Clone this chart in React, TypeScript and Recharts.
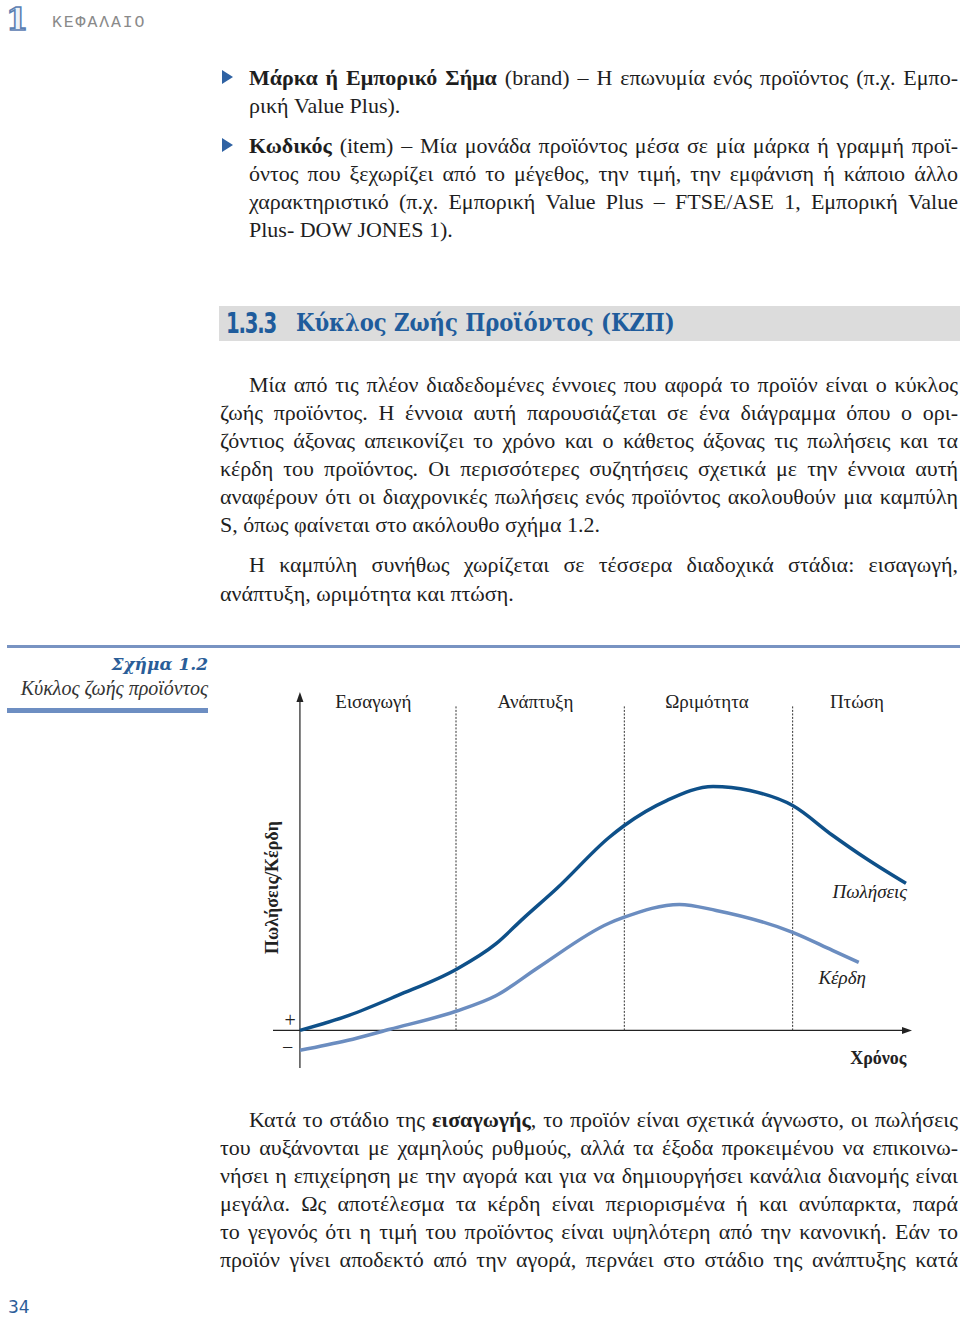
import React from "react";
import { LineChart, Line, XAxis, YAxis, ReferenceLine, ReferenceDot } from "recharts";

// sales / profit curves (time 0..100, value -10..90)
const salesT = [0, 8, 16, 25.5, 32, 36.5, 42, 50.5, 53, 60, 67.5, 73.5, 80.5, 87, 92.5, 99];
const salesV = [0, 4, 9.3, 16.2, 23, 29.8, 37.8, 51.3, 54.5, 61.2, 64.9, 63.8, 59.8, 51.9, 45.7, 39.1];
const profitT = [0, 7.7, 14.7, 25.5, 32, 39, 50.5, 53, 62, 68, 80.5, 87, 91.3];
const profitV = [-5.3, -2.7, 0.3, 5.1, 9.2, 16.8, 28.5, 30.1, 33.5, 31.9, 26.1, 21.3, 18.1];

const stages = ["Εισαγωγή", "Ανάπτυξη", "Ωριμότητα", "Πτώση"];
const stageCenters = [12, 38.5, 66.5, 91];
const stageBounds = [25.5, 53, 80.5];

const sales = salesT.map((t, i) => ({ t, v: salesV[i] }));
const profit = profitT.map((t, i) => ({ t, v: profitV[i] }));

const SALES = "#0e5089";
const PROFIT = "#6b8dc0";
const SERIF = '"Liberation Serif", "Times New Roman", serif';

const bullet1 = [
  [<b key="b">Μάρκα ή Εμπορικό Σήμα</b>, " (brand) – Η επωνυμία ενός προϊόντος (π.χ. Εμπο-"],
  ["ρική Value Plus)."],
];
const bullet2 = [
  [<b key="b">Κωδικός</b>, " (item) – Μία μονάδα προϊόντος μέσα σε μία μάρκα ή γραμμή προϊ-"],
  ["όντος που ξεχωρίζει από το μέγεθος, την τιμή, την εμφάνιση ή κάποιο άλλο"],
  ["χαρακτηριστικό (π.χ. Εμπορική Value Plus – FTSE/ASE 1, Εμπορική Value"],
  ["Plus- DOW JONES 1)."],
];
const para1 = [
  "Μία από τις πλέον διαδεδομένες έννοιες που αφορά το προϊόν είναι ο κύκλος",
  "ζωής προϊόντος. Η έννοια αυτή παρουσιάζεται σε ένα διάγραμμα όπου ο ορι-",
  "ζόντιος άξονας απεικονίζει το χρόνο και ο κάθετος άξονας τις πωλήσεις και τα",
  "κέρδη του προϊόντος. Οι περισσότερες συζητήσεις σχετικά με την έννοια αυτή",
  "αναφέρουν ότι οι διαχρονικές πωλήσεις ενός προϊόντος ακολουθούν μια καμπύλη",
  "S, όπως φαίνεται στο ακόλουθο σχήμα 1.2.",
];
const para2 = [
  "Η καμπύλη συνήθως χωρίζεται σε τέσσερα διαδοχικά στάδια: εισαγωγή,",
  "ανάπτυξη, ωριμότητα και πτώση.",
];
const para3 = [
  ["Κατά το στάδιο της ", <b key="b">εισαγωγής</b>, ", το προϊόν είναι σχετικά άγνωστο, οι πωλήσεις"],
  ["του αυξάνονται με χαμηλούς ρυθμούς, αλλά τα έξοδα προκειμένου να επικοινω-"],
  ["νήσει η επιχείρηση με την αγορά και για να δημιουργήσει κανάλια διανομής είναι"],
  ["μεγάλα. Ως αποτέλεσμα τα κέρδη είναι περιορισμένα ή και ανύπαρκτα, παρά"],
  ["το γεγονός ότι η τιμή του προϊόντος είναι υψηλότερη από την κανονική. Εάν το"],
  ["προϊόν γίνει αποδεκτό από την αγορά, περνάει στο στάδιο της ανάπτυξης κατά"],
];

function TextLine({ y, x = 220, justify = true, children }: any) {
  return (
    <div
      style={{
        position: "absolute",
        left: x,
        top: y - 14,
        width: 958 - x,
        height: 28,
        lineHeight: "28px",
        fontSize: 22,
        wordSpacing: justify ? -2 : 0,
        color: "#1e1e1e",
        textAlign: justify ? "justify" : "left",
        textAlignLast: justify ? "justify" : "left",
      }}
    >
      {children}
    </div>
  );
}

function Bullet({ y }: { y: number }) {
  return (
    <svg style={{ position: "absolute", left: 222, top: y - 8 }} width={12} height={16}>
      <polygon points="0,1 11,8 0,15" fill="#2f62a3" />
    </svg>
  );
}

// axis line with an arrow head at the far end
const arrowLine = (p: any) => {
  const { x1, y1, x2, y2 } = p;
  if (Math.abs(x1 - x2) < 0.5) {
    const top = Math.min(y1, y2);
    const bot = Math.max(y1, y2);
    return (
      <g>
        <line x1={x1} y1={top + 4} x2={x1} y2={bot} stroke="#222" strokeWidth={1.2} />
        <polygon points={`${x1},${top} ${x1 - 3.5},${top + 10} ${x1 + 3.5},${top + 10}`} fill="#222" />
      </g>
    );
  }
  const left = Math.min(x1, x2);
  const right = Math.max(x1, x2);
  return (
    <g>
      <line x1={left} y1={y1} x2={right - 4} y2={y1} stroke="#222" strokeWidth={1.2} />
      <polygon points={`${right},${y1} ${right - 10},${y1 - 3.5} ${right - 10},${y1 + 3.5}`} fill="#222" />
    </g>
  );
};

const tag =
  (text: string, style: any = {}, rotate = false) =>
  (props: any) => {
    const vb = props.viewBox || {};
    const cx = vb.x + (vb.width || 0) / 2;
    const cy = vb.y + (vb.height || 0) / 2;
    return (
      <text
        x={cx}
        y={cy}
        textAnchor="middle"
        dominantBaseline="central"
        fontFamily={SERIF}
        fontSize={19}
        fill="#222"
        transform={rotate ? `rotate(-90 ${cx} ${cy})` : undefined}
        {...style}
      >
        {text}
      </text>
    );
  };

function LifeCycleChart() {
  return (
    <div style={{ position: "absolute", left: 230, top: 670 }}>
      <LineChart width={700} height={420} margin={{ top: 22, right: 18, bottom: 22, left: 43 }}>
        <XAxis type="number" dataKey="t" domain={[-4.4, 100]} hide allowDataOverflow />
        <YAxis type="number" dataKey="v" domain={[-10, 90]} hide allowDataOverflow />
        <ReferenceLine x={0} shape={arrowLine} />
        <ReferenceLine y={0} shape={arrowLine} />
        {stageBounds.map((b) => (
          <ReferenceLine
            key={b}
            segment={[
              { x: b, y: 0 },
              { x: b, y: 86.5 },
            ]}
            stroke="#333"
            strokeWidth={1}
            strokeDasharray="2 1.5"
          />
        ))}
        <Line data={profit} dataKey="v" type="monotone" stroke={PROFIT} strokeWidth={3.5} dot={false} isAnimationActive={false} />
        <Line data={sales} dataKey="v" type="monotone" stroke={SALES} strokeWidth={3.5} dot={false} isAnimationActive={false} />
        {stages.map((s, i) => (
          <ReferenceDot key={s} x={stageCenters[i]} y={87.5} r={0} fill="none" stroke="none" label={{ content: tag(s) }} />
        ))}
        <ReferenceDot x={93.1} y={37} r={0} fill="none" stroke="none" label={{ content: tag("Πωλήσεις", { fontStyle: "italic" }) }} />
        <ReferenceDot x={88.6} y={14} r={0} fill="none" stroke="none" label={{ content: tag("Κέρδη", { fontStyle: "italic" }) }} />
        <ReferenceDot x={94.5} y={-7.3} r={0} fill="none" stroke="none" label={{ content: tag("Χρόνος", { fontWeight: "bold", fontSize: 18 }) }} />
        <ReferenceDot x={-1.6} y={2.8} r={0} fill="none" stroke="none" label={{ content: tag("+", { fontSize: 20 }) }} />
        <ReferenceDot x={-2} y={-4.4} r={0} fill="none" stroke="none" label={{ content: tag("−", { fontSize: 20 }) }} />
        <ReferenceDot
          x={-4.6}
          y={38}
          r={0}
          fill="none"
          stroke="none"
          ifOverflow="visible"
          label={{ content: tag("Πωλήσεις/Κέρδη", { fontWeight: "bold", fontSize: 18 }, true) }}
        />
      </LineChart>
    </div>
  );
}

export default function App() {
  return (
    <div style={{ position: "absolute", left: 0, top: 0, width: 960, height: 1317, background: "#fff", fontFamily: SERIF, overflow: "hidden" }}>
      {/* page header */}
      <div
        style={{
          position: "absolute",
          left: 6,
          top: 2,
          fontFamily: '"DejaVu Serif", serif',
          fontWeight: "bold",
          fontSize: 32,
          lineHeight: "34px",
          color: "#eef2f8",
          WebkitTextStroke: "1.6px #5b80b2",
        }}
      >
        1
      </div>
      <div
        style={{
          position: "absolute",
          left: 52,
          top: 13,
          fontFamily: '"Liberation Mono", monospace',
          fontSize: 16.5,
          letterSpacing: 1.9,
          color: "#8a8a8a",
        }}
      >
        ΚΕΦΑΛΑΙΟ
      </div>

      {/* bullets */}
      <Bullet y={77} />
      <Bullet y={145} />
      <TextLine x={249} y={78}>{bullet1[0]}</TextLine>
      <TextLine x={249} y={106} justify={false}>{bullet1[1]}</TextLine>
      {bullet2.map((l, i) => (
        <TextLine key={i} x={249} y={146 + i * 28} justify={i < 3}>
          {l}
        </TextLine>
      ))}

      {/* section heading */}
      <div style={{ position: "absolute", left: 219, top: 306, width: 741, height: 35, background: "#dcdcdc" }} />
      <div
        style={{
          position: "absolute",
          left: 226,
          top: 306,
          height: 35,
          lineHeight: "35px",
          fontFamily: '"DejaVu Sans Condensed", "DejaVu Sans", sans-serif',
          fontWeight: "bold",
          fontSize: 28,
          color: "#1f5c9c",
          letterSpacing: -1.5,
          transform: "scaleX(0.78)",
          transformOrigin: "left center",
        }}
      >
        1.3.3
      </div>
      <div
        style={{
          position: "absolute",
          left: 296,
          top: 306,
          height: 35,
          lineHeight: "35px",
          fontFamily: '"DejaVu Serif Condensed", "DejaVu Serif", serif',
          fontWeight: "bold",
          fontSize: 23.5,
          color: "#1f5c9c",
        }}
      >
        Κύκλος Ζωής Προϊόντος (ΚΖΠ)
      </div>

      {/* body paragraphs */}
      {para1.map((l, i) => (
        <TextLine key={i} x={i === 0 ? 249 : 220} y={385 + i * 28} justify={i < para1.length - 1}>
          {l}
        </TextLine>
      ))}
      {para2.map((l, i) => (
        <TextLine key={i} x={i === 0 ? 249 : 220} y={565 + i * 29} justify={i === 0}>
          {l}
        </TextLine>
      ))}

      {/* figure caption */}
      <div style={{ position: "absolute", left: 7, top: 645, width: 953, height: 3, background: "#7893c2" }} />
      <div
        style={{
          position: "absolute",
          left: 0,
          width: 208,
          top: 652,
          textAlign: "right",
          fontFamily: '"DejaVu Serif", serif',
          fontStyle: "italic",
          fontWeight: "bold",
          fontSize: 17,
          lineHeight: "24px",
          color: "#2a5d98",
        }}
      >
        Σχήμα 1.2
      </div>
      <div
        style={{
          position: "absolute",
          left: 0,
          width: 208,
          top: 676,
          textAlign: "right",
          fontStyle: "italic",
          fontSize: 20,
          lineHeight: "24px",
          color: "#333",
        }}
      >
        Κύκλος ζωής προϊόντος
      </div>
      <div style={{ position: "absolute", left: 7, top: 708, width: 201, height: 5, background: "#6d8ec2" }} />

      <LifeCycleChart />

      {para3.map((l, i) => (
        <TextLine key={i} x={i === 0 ? 249 : 220} y={1120 + i * 28}>
          {l}
        </TextLine>
      ))}

      {/* page number */}
      <div
        style={{
          position: "absolute",
          left: 8,
          top: 1297,
          fontFamily: '"DejaVu Sans", sans-serif',
          fontSize: 17,
          color: "#2c5d99",
        }}
      >
        34
      </div>
    </div>
  );
}
